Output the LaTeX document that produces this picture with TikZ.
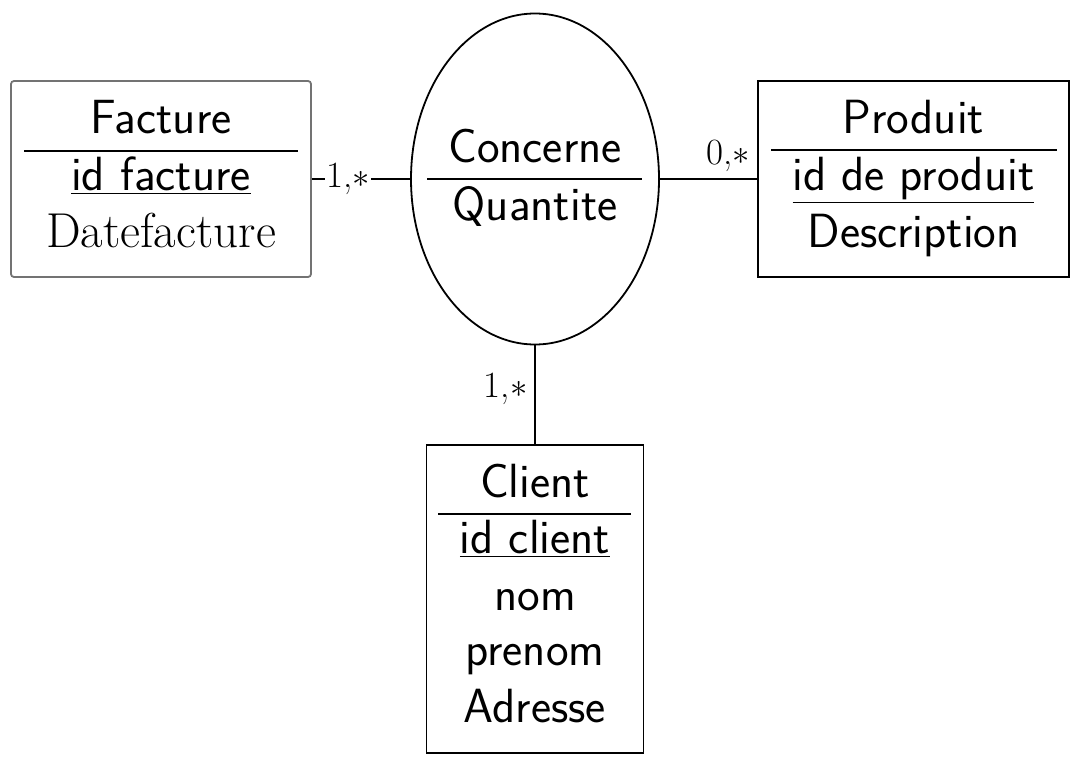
\documentclass[tikz,border=0pt]{standalone}
\usetikzlibrary{shapes.geometric}
\begin{document}
\begin{tikzpicture}[x=0.5pt,y=-0.5pt,
  entity/.style={draw=black,line width=0.9pt,rectangle,inner sep=0pt},
  assoc/.style={draw=black,line width=0.9pt,ellipse,inner sep=0pt,minimum width=124pt,minimum height=165.5pt},
  txt/.style={anchor=base,inner sep=0pt,font=\sffamily\fontsize{24}{29}\selectfont},
  rtxt/.style={anchor=base,inner sep=0pt,font=\rmfamily\fontsize{24.5}{29}\selectfont},
  sep/.style={line width=0.7pt},
  conn/.style={line width=0.9pt},
  lbl/.style={font=\rmfamily\fontsize{18.5}{22}\selectfont}]
\useasboundingbox (0,0) rectangle (1075,760);
% entities
\node[entity,draw=black!55,rounded corners=1.5pt,minimum width=150pt,minimum height=98pt] (facture) at (161,179) {};
\node[entity,minimum width=155.5pt,minimum height=98pt] (produit) at (913.5,179) {};
\node[entity,minimum width=108.5pt,minimum height=154pt] (client) at (535,599) {};
\node[assoc] (concerne) at (535,179) {};
% Facture texts
\node[txt] (f1) at (161,133) {Facture};
\draw[sep] (24,151) -- (298,151);
\node[txt] (f2) at (161,190) {\underline{id facture}};
\node[rtxt] (f3) at (161,247) {Datefacture};
% Produit texts
\node[txt] (p1) at (913.5,133) {Produit};
\draw[sep] (771,150) -- (1057,150);
\node[txt] (p2) at (913.5,190) {\underline{id de produit}};
\node[txt] (p3) at (913.5,247) {Description};
% Concerne texts
\node[txt] (c1) at (535,162) {Concerne};
\draw[sep] (427,179) -- (642,179);
\node[txt] (c2) at (535,220) {Quantite};
% Client texts
\node[txt] (k1) at (535,497) {Client};
\draw[sep] (438,514) -- (631,514);
\node[txt] (k2) at (535,553) {\underline{id client}};
\node[txt] (k3) at (535,610) {nom};
\node[txt] (k4) at (535,665) {prenom};
\node[txt] (k5) at (535,722) {Adresse};
% connectors
\draw[conn] (facture.east) -- node[lbl,pos=0.37,fill=white,inner sep=0.5pt] (l1) {1,$*$} (concerne.west);
\draw[conn] (concerne.east) -- node[lbl,pos=1,above left] (l2) {0,$*$} (produit.west);
\draw[conn] (concerne.south) -- node[lbl,pos=0.44,left] (l3) {1,$*$} (client.north);
\end{tikzpicture}
\end{document}
